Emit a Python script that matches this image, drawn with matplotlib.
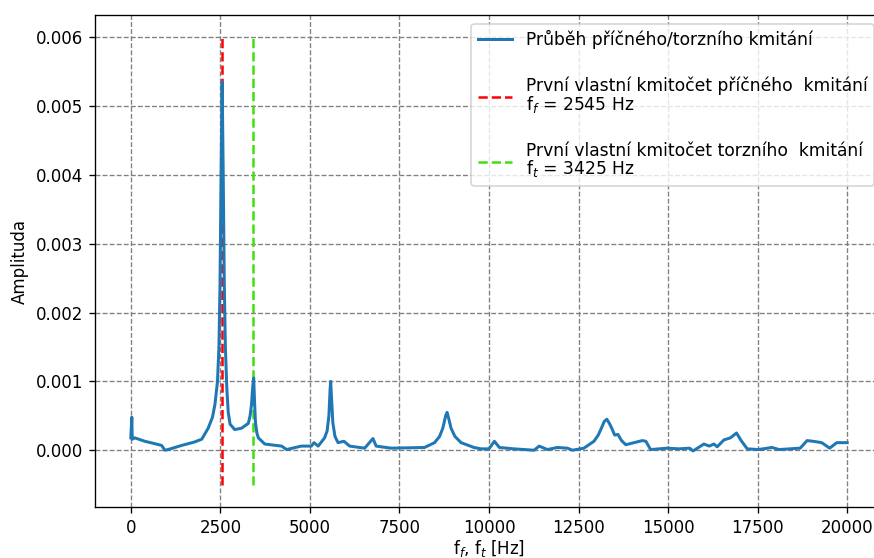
import numpy as np
import matplotlib
matplotlib.use("Agg")
from matplotlib import pyplot as plt

plt.rcParams['font.family'] = ['DejaVu Sans']

# odečtené body spektra
f = [0, 28, 40, 110, 390, 585, 860, 950, 1040, 1420, 1780, 1980, 2160, 2280, 2350, 2420,
     2460, 2490, 2520, 2550, 2580, 2610, 2640, 2680, 2720, 2770, 2900, 3090, 3280, 3330,
     3370, 3400, 3430, 3455, 3480, 3520, 3560, 3740, 4210, 4350, 4760, 5040, 5115, 5230,
     5410, 5480, 5530, 5565, 5580, 5600, 5640, 5700, 5785, 5950, 6110, 6530, 6760, 6850,
     7270, 8200, 8480, 8620, 8710, 8790, 8830, 8880, 8940, 9050, 9220, 9580, 9780, 10000,
     10150, 10290, 10700, 11260, 11400, 11630, 11910, 12190, 12330, 12650, 12930, 13050,
     13120, 13220, 13290, 13350, 13400, 13510, 13600, 13700, 13820, 14280, 14380, 14510,
     14980, 15300, 15600, 15700, 16000, 16150, 16280, 16370, 16560, 16740, 16910, 17040,
     17210, 17520, 17900, 18100, 18690, 18880, 19050, 19290, 19510, 19710, 20000]
amp = [0.00018, 0.00048, 0.00016, 0.00018, 0.00013, 0.000106, 0.00007, 0.0, 0.00001,
       0.00007, 0.00012, 0.00016, 0.00032, 0.00048, 0.00067, 0.00100, 0.0015, 0.0024,
       0.0040, 0.00535, 0.0040, 0.0024, 0.0015, 0.0009, 0.00055, 0.00038, 0.00030, 0.00032,
       0.00039, 0.00050, 0.00067, 0.00090, 0.00105, 0.0007, 0.00040, 0.00025, 0.00018,
       0.00009, 0.00006, 0.00001, 0.00006, 0.00006, 0.00011, 0.00006, 0.00018, 0.00028,
       0.00050, 0.0009, 0.00100, 0.0008, 0.0004, 0.0002, 0.00011, 0.00013, 0.00006, 0.00003,
       0.00017, 0.00006, 0.00003, 0.00004, 0.00011, 0.00020, 0.00032, 0.00050, 0.00055,
       0.00045, 0.00032, 0.00020, 0.00011, 0.00004, 0.00002, 0.00002, 0.00013, 0.00004,
       0.00002, 0.0, 0.00006, 0.00001, 0.00004, 0.00003, 0.0, 0.00003, 0.00013, 0.00022,
       0.00030, 0.00042, 0.00045, 0.00040, 0.00035, 0.00022, 0.00023, 0.00014, 0.00008,
       0.00014, 0.00013, 0.00001, 0.00003, 0.00002, 0.00003, -0.00001, 0.00009, 0.00006,
       0.00009, 0.00005, 0.00015, 0.00018, 0.00025, 0.00014, 0.00002, 0.00001, 0.00004,
       0.00001, 0.00003, 0.00014, 0.00013, 0.00011, 0.00003, 0.00011, 0.00011]

ff = 2545  # Hz
ft = 3425  # Hz

fig = plt.figure(figsize=(874 / 120, 558 / 120), dpi=120)
ax = fig.add_axes([95 / 874, 51 / 558, 788 / 874, 492 / 558])

ax.plot(f, amp, color='tab:blue', lw=1.8, zorder=3, label='Průběh příčného/torzního kmitání')
ax.vlines(ff, -0.0005, 0.006, colors='red', linestyles='dashed',
          label='První vlastní kmitočet příčného  kmitání\nf$_f$ = ' + str(ff) + ' Hz')
ax.vlines(ft, -0.0005, 0.006, colors='#40e010', linestyles='dashed',
          label='První vlastní kmitočet torzního  kmitání\nf$_t$ = ' + str(ft) + ' Hz')

ax.set_xlabel('f$_f$, f$_t$ [Hz]', labelpad=1)
ax.set_ylabel('Amplituda')
ax.grid(color='gray', linestyle='--')
leg = ax.legend(loc='upper right', labelspacing=1.6, fontsize=10.25)
for t in leg.get_texts():
    t.set_linespacing(0.9)

fig.savefig('out.png', dpi=120)
